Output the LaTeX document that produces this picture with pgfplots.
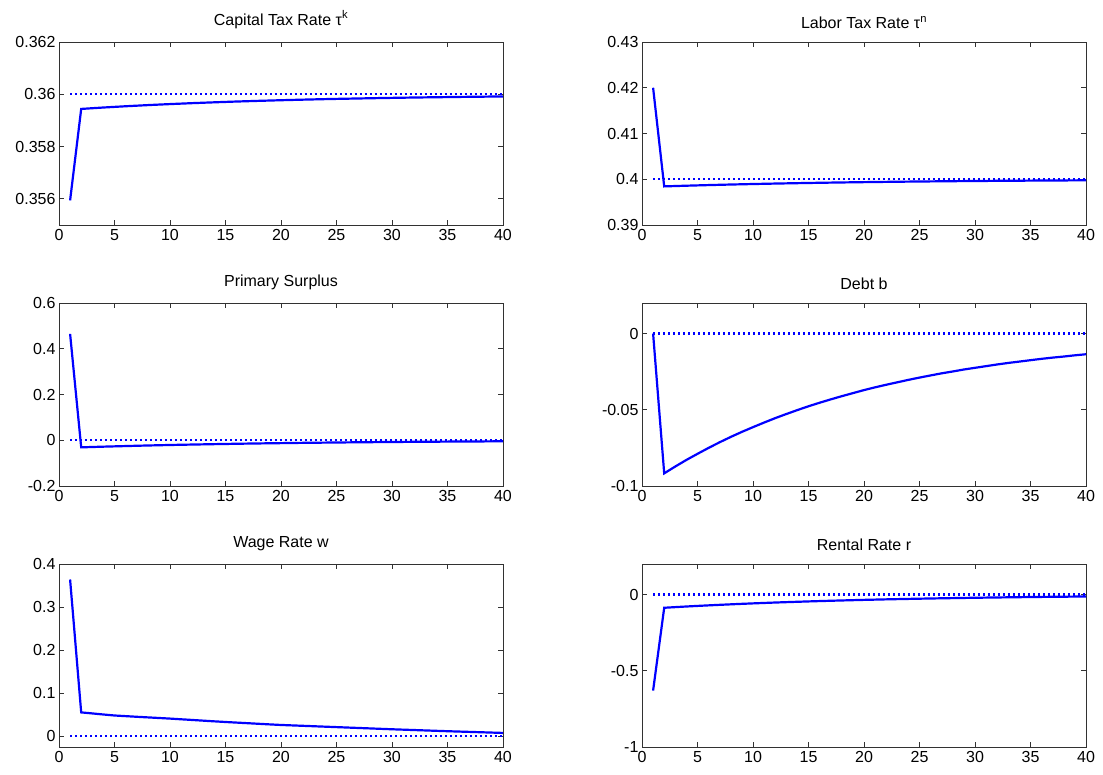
\documentclass[border=0pt]{standalone}
\usepackage{fontspec}
\setmainfont{Liberation Sans}
\usepackage{pgfplots}
\usepackage{pgfplotstable}
\pgfplotsset{compat=1.18}
\definecolor{mblue}{RGB}{0,0,255}
\definecolor{frame}{RGB}{50,50,50}

% impulse responses, t = 1..40
\pgfplotstableread{
t  tk        tn        ps       b        w       r
1  0.35594   0.42000   0.4650   0.0000   0.3640  -0.6300
2  0.359440  0.398440 -0.0310  -0.0917   0.0554  -0.0870
3  0.359467  0.398516 -0.0295  -0.0872   0.0530  -0.0827
4  0.359494  0.398590 -0.0280  -0.0829   0.0505  -0.0786
5  0.359518  0.398658 -0.0267  -0.0789   0.0482  -0.0748
6  0.359542  0.398724 -0.0254  -0.0750   0.0467  -0.0712
7  0.359564  0.398786 -0.0241  -0.0713   0.0452  -0.0677
8  0.359586  0.398846 -0.0229  -0.0678   0.0438  -0.0644
9  0.359606  0.398902 -0.0218  -0.0645   0.0424  -0.0612
10 0.359625  0.398956 -0.0207  -0.0614   0.0410  -0.0582
11 0.359643  0.399006 -0.0197  -0.0584   0.0394  -0.0554
12 0.359661  0.399056 -0.0188  -0.0555   0.0378  -0.0526
13 0.359677  0.399101 -0.0179  -0.0528   0.0362  -0.0501
14 0.359693  0.399145 -0.0170  -0.0502   0.0346  -0.0477
15 0.359708  0.399187 -0.0162  -0.0477   0.0331  -0.0453
16 0.359723  0.399228 -0.0153  -0.0454   0.0317  -0.0431
17 0.359736  0.399265 -0.0146  -0.0432   0.0303  -0.0410
18 0.359749  0.399301 -0.0139  -0.0411   0.0289  -0.0390
19 0.359761  0.399335 -0.0132  -0.0391   0.0275  -0.0371
20 0.359773  0.399368 -0.0126  -0.0371   0.0262  -0.0352
21 0.359784  0.399399 -0.0119  -0.0353   0.0252  -0.0335
22 0.359795  0.399429 -0.0113  -0.0336   0.0242  -0.0318
23 0.359805  0.399457 -0.0108  -0.0320   0.0232  -0.0303
24 0.359815  0.399484 -0.0103  -0.0304   0.0222  -0.0288
25 0.359824  0.399509 -0.0098  -0.0289   0.0212  -0.0274
26 0.359832  0.399532 -0.0093  -0.0275   0.0202  -0.0261
27 0.359840  0.399555 -0.0088  -0.0261   0.0192  -0.0248
28 0.359848  0.399577 -0.0084  -0.0249   0.0182  -0.0236
29 0.359856  0.399598 -0.0080  -0.0236   0.0172  -0.0224
30 0.359863  0.399618 -0.0076  -0.0225   0.0162  -0.0213
31 0.359870  0.399637 -0.0072  -0.0214   0.0153  -0.0203
32 0.359876  0.399654 -0.0069  -0.0203   0.0144  -0.0193
33 0.359882  0.399671 -0.0065  -0.0193   0.0135  -0.0184
34 0.359887  0.399686 -0.0062  -0.0184   0.0126  -0.0175
35 0.359893  0.399702 -0.0059  -0.0175   0.0117  -0.0166
36 0.359899  0.399718 -0.0056  -0.0166   0.0109  -0.0157
37 0.359903  0.399730 -0.0054  -0.0158   0.0101  -0.0151
38 0.359908  0.399744 -0.0051  -0.0151   0.0093  -0.0143
39 0.359913  0.399757 -0.0048  -0.0143   0.0085  -0.0136
40 0.359917  0.399768 -0.0046  -0.0136   0.0077  -0.0130
}\irf

\pgfplotsset{
  mat/.style={
    scale only axis, width=444pt, height=183pt,
    anchor=north west,
    xmin=0, xmax=40, xtick={0,5,...,40},
    tick align=inside, major tick length=5pt,
    tick style={frame, line width=0.9pt},
    axis line style={frame, line width=0.9pt},
    ticklabel style={font=\fontsize{16}{18}\selectfont},
    xticklabel style={yshift=-1pt},
    /pgf/number format/assume math mode=true,
    /pgf/number format/fixed,
    /pgf/number format/precision=3,
    scaled y ticks=false,
    title style={font=\fontsize{16}{18}\selectfont, yshift=4pt},
  },
  ss/.style={mblue, line width=2.2pt, dash pattern=on 2.2pt off 2.8pt},
  path/.style={mblue, line width=2.2pt},
}

\begin{document}
\begin{tikzpicture}
\path[use as bounding box] (0,0) rectangle (1103pt,-774pt);

\begin{axis}[mat, at={(59pt,-42pt)}, title={Capital Tax Rate τ\textsuperscript{k}},
  ymin=0.355, ymax=0.362, ytick={0.356,0.358,0.36,0.362}]
\addplot[ss] coordinates {(1,0.36) (40,0.36)};
\addplot[path] table[x=t,y=tk] {\irf};
\end{axis}

\begin{axis}[mat, at={(642pt,-42pt)}, title={Labor Tax Rate τ\textsuperscript{n}},
  ymin=0.39, ymax=0.43, ytick={0.39,0.4,0.41,0.42,0.43}]
\addplot[ss] coordinates {(1,0.4) (40,0.4)};
\addplot[path] table[x=t,y=tn] {\irf};
\end{axis}

\begin{axis}[mat, at={(59pt,-303pt)}, title={Primary Surplus},
  ymin=-0.2, ymax=0.6, ytick={-0.2,0,0.2,0.4,0.6}]
\addplot[ss] coordinates {(1,0) (40,0)};
\addplot[path] table[x=t,y=ps] {\irf};
\end{axis}

\begin{axis}[mat, at={(642pt,-303pt)}, title={Debt b},
  ymin=-0.1, ymax=0.02, ytick={-0.1,-0.05,0}]
\addplot[ss] coordinates {(1,0) (40,0)};
\addplot[path] table[x=t,y=b] {\irf};
\end{axis}

\begin{axis}[mat, at={(59pt,-564pt)}, title={Wage Rate w},
  ymin=-0.025, ymax=0.4, ytick={0,0.1,0.2,0.3,0.4}]
\addplot[ss] coordinates {(1,0) (40,0)};
\addplot[path] table[x=t,y=w] {\irf};
\end{axis}

\begin{axis}[mat, at={(642pt,-564pt)}, title={Rental Rate r},
  ymin=-1, ymax=0.2, ytick={-1,-0.5,0}]
\addplot[ss] coordinates {(1,0) (40,0)};
\addplot[path] table[x=t,y=r] {\irf};
\end{axis}
\end{tikzpicture}
\end{document}
